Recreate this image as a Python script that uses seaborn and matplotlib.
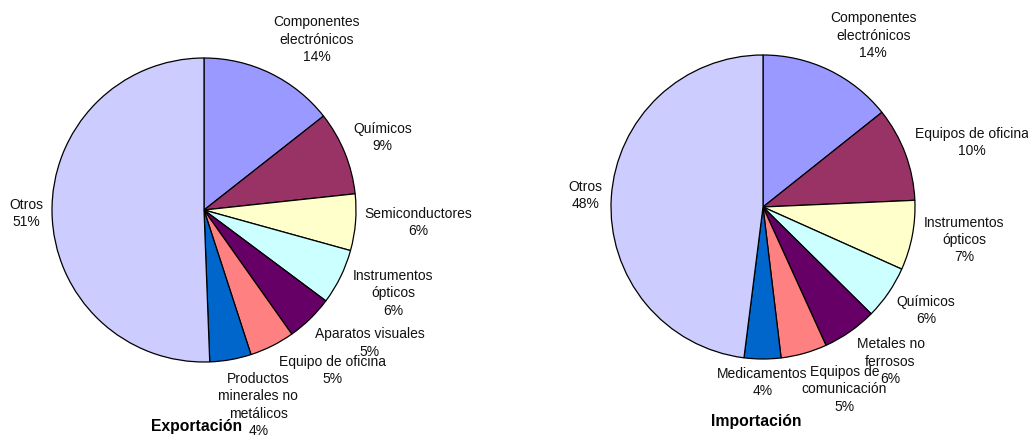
import numpy as np
import matplotlib
matplotlib.use("Agg")
import matplotlib.pyplot as plt
import seaborn as sns

# Export shares (%) by product group
exp_labels = ["Componentes\nelectrónicos", "Químicos", "Semiconductores",
              "Instrumentos\nópticos", "Aparatos visuales", "Equipo de oficina",
              "Productos\nminerales no\nmetálicos", "Otros"]
exp_values = [14.4, 8.9, 6.0, 5.9, 5.0, 4.8, 4.4, 50.6]

# Import shares (%) by product group
imp_labels = ["Componentes\nelectrónicos", "Equipos de oficina", "Instrumentos\nópticos",
              "Químicos", "Metales no\nferrosos", "Equipos de\ncomunicación",
              "Medicamentos", "Otros"]
imp_values = [14.3, 10.0, 7.4, 5.7, 5.8, 4.9, 3.9, 48.0]

# Classic office palette, one colour per slice position
slice_colors = ["#9999FF", "#993366", "#FFFFCC", "#CCFFFF",
                "#660066", "#FF8080", "#0066CC", "#CCCCFF"]

sns.set_theme(style="white")
plt.rcParams["font.family"] = ["Liberation Sans", "DejaVu Sans"]

W, H = 1028, 436
DPI = 100
R = 152  # pie radius in pixels
LABEL_SIZE = 10.0
TITLE_SIZE = 11.3
GAP = 8 / R

fig = plt.figure(figsize=(W / DPI, H / DPI), dpi=DPI)
fig.patch.set_facecolor("white")
palette = sns.color_palette(slice_colors)


def draw_pie(cx, cy, values, labels, nudges, title, title_xy):
    ax = fig.add_axes([(cx - R) / W, 1 - (cy + R) / H, 2 * R / W, 2 * R / H])
    wedges, _ = ax.pie(values, colors=palette, startangle=90, counterclock=False,
                       radius=1.0,
                       wedgeprops=dict(edgecolor="black", linewidth=0.9))
    ax.set_xlim(-1, 1)
    ax.set_ylim(-1, 1)
    ax.set_aspect("equal")
    ax.axis("off")
    renderer = fig.canvas.get_renderer()
    for w, lab, v, nd in zip(wedges, labels, values, nudges):
        theta = np.deg2rad((w.theta1 + w.theta2) / 2 + nd)
        ux, uy = np.cos(theta), np.sin(theta)
        txt = ax.text(0, 0, f"{lab}\n{v:.0f}%", ha="center", va="center",
                      multialignment="center", linespacing=1.3,
                      fontsize=LABEL_SIZE, color="#111111", clip_on=False)
        bb = txt.get_window_extent(renderer)
        hw, hh = bb.width / 2 / R, bb.height / 2 / R
        d = 1 + GAP + hw * abs(ux) + hh * abs(uy)
        txt.set_position((d * ux, d * uy))
    fig.text(title_xy[0] / W, 1 - title_xy[1] / H, title, ha="center", va="center",
             fontsize=TITLE_SIZE, fontweight="bold", color="black")


exp_nudges = [-7.5, 0, 1.3, 2.3, 7, 12, 5.5, 0]
imp_nudges = [-7, -3.3, 1.5, 2, 4.6, 8.4, 0, 0]

draw_pie(204, 210, exp_values, exp_labels, exp_nudges, "Exportación", (197, 426))
draw_pie(763, 207, imp_values, imp_labels, imp_nudges, "Importación", (756, 421))

fig.savefig("out.png", dpi=DPI, facecolor="white")
